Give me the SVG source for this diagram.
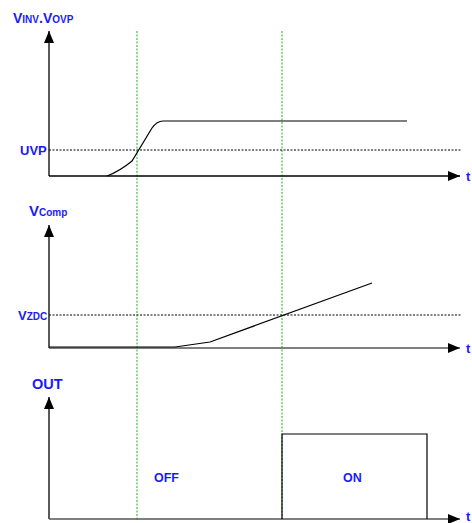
<svg xmlns="http://www.w3.org/2000/svg" width="472" height="523" viewBox="0 0 472 523">
<style>
.lbl{font-family:"Liberation Sans",Arial,sans-serif;font-weight:bold;fill:#1a1aff}
.axis{stroke:#000;stroke-width:1.3;fill:none}
.axisg{stroke:#555;stroke-width:1.5;fill:none}
.dot{stroke:#000;stroke-width:1;stroke-dasharray:2,1.5;fill:none}
.grn{stroke:#22aa22;stroke-width:1;stroke-dasharray:2,1.5;fill:none}
.sig{stroke:#000;stroke-width:1.2;fill:none}
</style>
<defs>
<marker id="ah" markerWidth="12" markerHeight="10" refX="12" refY="5" orient="auto" markerUnits="userSpaceOnUse">
<path d="M0,0 L12,5 L0,10 Z" fill="#000"/>
</marker>
</defs>
<rect width="472" height="523" fill="#fff"/>
<g id="connectors">
<line class="grn" x1="137" y1="31" x2="137" y2="521"/>
<line class="grn" x1="282" y1="31" x2="282" y2="521"/>
<line class="axis" x1="49" y1="176" x2="49" y2="31" marker-end="url(#ah)"/>
<line class="axis" x1="49" y1="176" x2="460" y2="176" marker-end="url(#ah)"/>
<line class="dot" x1="49" y1="150" x2="461" y2="150"/>
<path class="sig" d="M107,176 Q120,171 132,161 L152,128 Q157,121 163,121 L407,121"/>
<line class="axis" x1="49" y1="348" x2="49" y2="225" marker-end="url(#ah)"/>
<line class="axisg" x1="49" y1="348" x2="460" y2="348" marker-end="url(#ah)"/>
<line class="dot" x1="49" y1="315" x2="461" y2="315"/>
<path class="sig" d="M49,347 L175,347 L210,342 L372,283"/>
<line class="axis" x1="49" y1="519" x2="49" y2="397" marker-end="url(#ah)"/>
<line class="axisg" x1="49" y1="519" x2="460" y2="519" marker-end="url(#ah)"/>
<path class="sig" d="M282,519 L282,434 L427,434 L427,519"/>
</g>
<g id="label-vinv"><text class="lbl" x="13" y="23" font-size="14">V<tspan font-size="10">INV</tspan>.V<tspan font-size="10">OVP</tspan></text></g>
<g id="label-uvp"><text class="lbl" x="20" y="155" font-size="13">UVP</text></g>
<g id="label-t1"><text class="lbl" x="466" y="181" font-size="13">t</text></g>
<g id="label-vcomp"><text class="lbl" x="29" y="216" font-size="15">V<tspan font-size="10">Comp</tspan></text></g>
<g id="label-vzdc"><text class="lbl" x="18" y="320" font-size="13">V<tspan font-size="10">ZDC</tspan></text></g>
<g id="label-t2"><text class="lbl" x="466" y="353" font-size="13">t</text></g>
<g id="label-out"><text class="lbl" x="32" y="389" font-size="14.5">OUT</text></g>
<g id="label-off"><text class="lbl" x="154" y="482" font-size="12.5">OFF</text></g>
<g id="label-on"><text class="lbl" x="343" y="482" font-size="12.5">ON</text></g>
<g id="label-t3"><text class="lbl" x="466" y="521" font-size="13">t</text></g>
</svg>
